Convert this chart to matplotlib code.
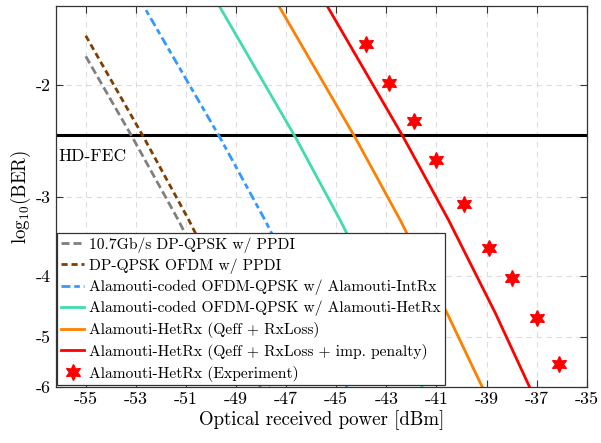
import numpy as np
import matplotlib
matplotlib.use("Agg")
import matplotlib.pyplot as plt

plt.rcParams['font.family'] = 'cmr10'
plt.rcParams['mathtext.fontset'] = 'cm'
plt.rcParams['axes.unicode_minus'] = False

# ---- data: x = received power [dBm], y = log10(BER) ----
gray_x = [-55.0, -53.13, -51.3, -49.43, -48.03]
gray_y = [-1.80, -2.42, -3.27, -4.59, -6.0]
brown_x = [-55.0, -52.68, -50.88, -49.0, -47.6]
brown_y = [-1.67, -2.42, -3.27, -4.59, -6.0]
blue_x = [-52.9, -49.64, -47.84, -45.97, -44.57]
blue_y = [-1.45, -2.42, -3.27, -4.59, -6.0]
teal_x = [-49.88, -46.62, -44.84, -42.97, -41.57]
teal_y = [-1.45, -2.42, -3.27, -4.59, -6.0]
orange_x = [-47.5, -44.24, -42.44, -40.57, -39.17]
orange_y = [-1.45, -2.42, -3.27, -4.59, -6.0]
red_x = [-45.57, -42.31, -40.51, -38.64, -37.28]
red_y = [-1.45, -2.42, -3.27, -4.59, -6.0]
exp_x = [-43.8, -42.9, -41.9, -41.0, -39.9, -38.9, -38.0, -37.0, -36.1]
exp_y = [-1.72, -1.98, -2.28, -2.63, -3.08, -3.62, -4.04, -4.66, -5.51]
hdfec = -2.40

labels = ["10.7Gb/s DP-QPSK w/ PPDI",
          "DP-QPSK OFDM w/ PPDI",
          "Alamouti-coded OFDM-QPSK w/ Alamouti-IntRx",
          "Alamouti-coded OFDM-QPSK w/ Alamouti-HetRx",
          "Alamouti-HetRx (Qeff + RxLoss)",
          "Alamouti-HetRx (Qeff + RxLoss + imp. penalty)",
          "Alamouti-HetRx (Experiment)"]
xticks = [-55, -53, -51, -49, -47, -45, -43, -41, -39, -37, -35]
yticks = [-2, -3, -4, -5, -6]

fig = plt.figure(figsize=(6.01, 4.43), dpi=100)
ax = fig.add_axes([0.0927, 0.1264, 0.8835, 0.8607])

fwd = lambda y: -np.log10(np.clip(-np.asarray(y, float), 1e-9, None))
inv = lambda u: -np.power(10.0, -np.asarray(u, float))
ax.set_yscale('function', functions=(fwd, inv))

lw = 2.0
ax.plot(gray_x, gray_y, color='#808080', lw=lw, dashes=(2.9, 1.4), label=labels[0])
ax.plot(brown_x, brown_y, color='#7f3f00', lw=lw, dashes=(2.2, 1.4), label=labels[1])
ax.plot(blue_x, blue_y, color='#3399ff', lw=lw, dashes=(3.2, 1.4, 2.0, 1.4), label=labels[2])
ax.plot(teal_x, teal_y, color='#40dcae', lw=lw, label=labels[3])
ax.plot(orange_x, orange_y, color='#ff8000', lw=lw, label=labels[4])
ax.plot(red_x, red_y, color='#ff0000', lw=lw, label=labels[5])
ax.plot(exp_x, exp_y, ls='none', marker=(6, 1, 0), ms=11.5, color='#ff0000',
        mec='#ff0000', label=labels[6])
ax.axhline(hdfec, color='black', lw=2.2, zorder=1.5)
ax.text(-56.1, -2.59, "HD-FEC", fontsize=12.5, va='center', ha='left')

ax.set_xlim(-56.2, -35)
ax.set_ylim(-6, -1.497)
ax.set_xticks(xticks)
ax.set_xticklabels([str(t) for t in xticks])
ax.set_yticks(yticks)
ax.set_yticklabels([str(t) for t in yticks])
ax.minorticks_off()
ax.tick_params(direction='in', top=True, right=True, labelsize=13, length=5,
               color='#333333')
ax.grid(True, ls=(0, (5, 4)), color='#dddddd', lw=0.8)
ax.set_axisbelow(True)
for s in ax.spines.values():
    s.set_color('#333333')
    s.set_linewidth(0.9)

ax.set_xlabel("Optical received power [dBm]", fontsize=13.6, labelpad=2)
ax.set_ylabel(r"log$_{10}$(BER)", fontsize=13.6, labelpad=2)

leg = ax.legend(loc='lower left', bbox_to_anchor=(0.0, 0.0), fontsize=11.2,
                fancybox=False, framealpha=1, edgecolor='#333333',
                borderaxespad=0.1, handlelength=1.5, handletextpad=0.32,
                labelspacing=0.37, borderpad=0.25)
leg.get_frame().set_linewidth(0.9)

fig.savefig("out.png", dpi=100)
